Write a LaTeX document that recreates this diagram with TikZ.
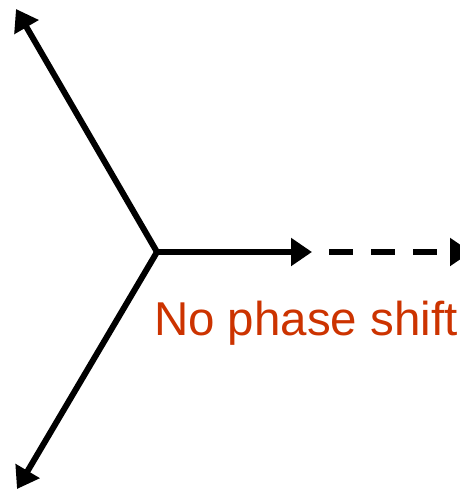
\documentclass[tikz,border=0pt]{standalone}
\usepackage{fontspec}
\setmainfont{Liberation Sans}
\usetikzlibrary{arrows.meta}

\definecolor{shiftred}{HTML}{CC3300}

\begin{document}
\begin{tikzpicture}[x=1pt, y=-1pt, line width=6pt,
  vec/.style={-{Triangle[length=21pt, width=27pt]}},
  ghost/.style={vec, dash pattern=on 24pt off 18pt, dash phase=25pt}]

% 画布大小
\useasboundingbox (0,0) rectangle (459,490);

% 三个相量的公共起点 O
\coordinate (O) at (157, 252);

% 三个相量的终点
\coordinate (A) at (16, 9);
\coordinate (B) at (17, 489);
\coordinate (C) at (312, 252);

% 虚线延长后的终点（箭头超出画面）
\coordinate (D) at (471, 252);

% 三条实线箭头
\draw[vec] (O) -- (A);
\draw[vec] (O) -- (B);
\draw[vec] (O) -- (C);

% 虚线箭头
\draw[ghost] (C) -- (D);

% 标注
\node[anchor=base west, inner sep=0pt, text=shiftred, font=\fontsize{47.5}{52}\selectfont]
  (label) at (151, 335) {No phase shift};

\end{tikzpicture}
\end{document}
